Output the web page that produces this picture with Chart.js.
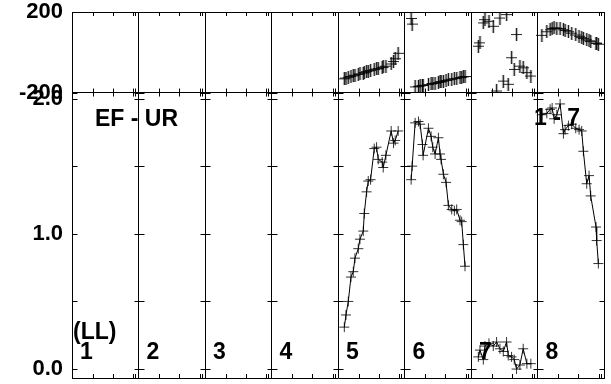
<!DOCTYPE html>
<html>
<head>
<meta charset="utf-8">
<script src="https://cdn.jsdelivr.net/npm/chart.js@4.4.1/dist/chart.umd.min.js"></script>
<style>
html, body { margin: 0; padding: 0; background: #fff; }
#wrap { width: 611px; height: 384px; }
</style>
</head>
<body>
<div id="wrap"><canvas id="vplot"></canvas></div>
<script>
// column (baseline) labels along the bottom
const columnLabels = ['1', '2', '3', '4', '5', '6', '7', '8'];
const ampTicks = [0, 1, 2];
const ampMinorTicks = [0, 0.5, 1, 1.5, 2];
const phaseTicks = [-200, 0, 200];
const timeTicks = [0.31, 0.61, 0.92, 0.95]; // time marks inside every column

// column 5
const col5Time = [0.095, 0.12, 0.155, 0.195, 0.23, 0.255, 0.305, 0.33, 0.38, 0.395, 0.43, 0.455, 0.49, 0.545, 0.58, 0.605, 0.665, 0.68, 0.72, 0.80, 0.835, 0.86, 0.905];
const col5Amp = [0.31, 0.40, 0.50, 0.68, 0.72, 0.82, 0.89, 0.96, 1.02, 1.15, 1.31, 1.39, 1.40, 1.63, 1.64, 1.55, 1.53, 1.49, 1.58, 1.76, 1.67, 1.69, 1.76];
const col5Phase = [-132, -128, -124, -120, -117, -114, -110, -107, -103, -101, -96, -93, -90, -86, -83, -80, -76, -73, -69, -58, -46, -32, -5];

// column 6
const col6Time = [0.10, 0.115, 0.16, 0.21, 0.235, 0.27, 0.28, 0.36, 0.40, 0.425, 0.46, 0.51, 0.535, 0.55, 0.585, 0.625, 0.66, 0.71, 0.75, 0.785, 0.835, 0.86, 0.885, 0.91];
const col6Amp = [1.40, 1.50, 1.82, 1.83, 1.81, 1.66, 1.58, 1.78, 1.72, 1.64, 1.59, 1.71, 1.59, 1.55, 1.44, 1.38, 1.21, 1.18, 1.17, 1.18, 1.10, 1.09, 0.92, 0.76];
const col6Phase = [168, 140, -172, -169, -167, -165, -164, -160, -157, -155, -153, -150, -147, -146, -143, -140, -137, -134, -131, -129, -126, -124, -122, -120];

// column 7
const col7Time = [0.11, 0.135, 0.185, 0.21, 0.27, 0.335, 0.385, 0.435, 0.485, 0.535, 0.56, 0.61, 0.65, 0.685, 0.735, 0.785, 0.84, 0.90];
const col7Amp = [0.09, 0.14, 0.07, 0.17, 0.19, 0.17, 0.20, 0.15, 0.13, 0.20, 0.10, 0.09, 0.07, 0.00, 0.03, 0.15, 0.04, 0.04];
const col7Phase = [30, 47, 146, 162, 154, 129, -192, 170, -143, 187, -159, -27, -85, 88, -69, -77, -101, -118];

// column 8
const col8Time = [0.065, 0.14, 0.19, 0.22, 0.25, 0.29, 0.34, 0.39, 0.415, 0.465, 0.515, 0.575, 0.625, 0.665, 0.69, 0.74, 0.775, 0.80, 0.88, 0.89, 0.915];
const col8Amp = [1.88, 1.89, 1.92, 1.93, 1.85, 1.88, 1.96, 1.74, 1.77, 1.80, 1.81, 1.78, 1.77, 1.76, 1.61, 1.37, 1.43, 1.28, 1.05, 0.95, 0.78];
const col8Phase = [84, 102, 112, 118, 121, 120, 118, 112, 108, 102, 95, 86, 79, 73, 69, 62, 57, 53, 46, 44, 40];

const columns = [
    { col: 5, time: col5Time, amp: col5Amp, phase: col5Phase },
    { col: 6, time: col6Time, amp: col6Amp, phase: col6Phase },
    { col: 7, time: col7Time, amp: col7Amp, phase: col7Phase },
    { col: 8, time: col8Time, amp: col8Amp, phase: col8Phase }
];

const FONT = "'Liberation Sans', Arial, Helvetica, sans-serif";
const crossColor = 'rgba(0,0,0,0.8)';

// phase marker: cross with a taller grey error bar
const phaseMark = document.createElement('canvas');
phaseMark.width = 11;
phaseMark.height = 13;
(function () {
    const g = phaseMark.getContext('2d');
    g.fillStyle = 'rgba(0,0,0,0.45)';
    g.fillRect(4.5, 0, 2, 13);
    g.fillStyle = 'rgba(0,0,0,0.85)';
    g.fillRect(5, 0, 1, 13);
    g.fillRect(0, 6, 11, 1);
})();

const datasets = [];
columns.forEach((c) => {
    const offset = c.col - 1;
    datasets.push({
        type: 'line',
        yAxisID: 'yAmp',
        data: c.time.map((t, i) => ({ x: offset + t, y: c.amp[i] })),
        borderColor: '#000',
        borderWidth: 1,
        tension: 0,
        pointStyle: 'cross',
        pointRadius: 5,
        pointBorderWidth: 1,
        pointBorderColor: crossColor
    });
    datasets.push({
        type: 'line',
        yAxisID: 'yPhase',
        showLine: false,
        data: c.time.map((t, i) => ({ x: offset + t, y: c.phase[i] })),
        pointStyle: phaseMark,
        pointRadius: 5
    });
});

function noPadding(scale) {
    scale.paddingTop = 0;
    scale.paddingBottom = 0;
    scale.paddingLeft = 0;
    scale.paddingRight = 0;
}

// small tick marks on the column boundaries and along the frame
const frameTicks = {
    id: 'frameTicks',
    afterDatasetsDraw(chart) {
        const ctx = chart.ctx;
        const x = chart.scales.x;
        const yA = chart.scales.yAmp;
        const yP = chart.scales.yPhase;
        const left = chart.chartArea.left;
        const right = chart.chartArea.right;
        ctx.save();
        ctx.strokeStyle = '#000';
        ctx.lineWidth = 1;
        ctx.beginPath();
        for (let i = 0; i <= columnLabels.length; i++) {
            const px = Math.round(x.getPixelForValue(i)) + 0.5;
            ampMinorTicks.forEach((v) => {
                const py = Math.round(yA.getPixelForValue(v)) + 0.5;
                ctx.moveTo(Math.max(px - 5, left), py);
                ctx.lineTo(Math.min(px + 5, right), py);
            });
            [-200, 200].forEach((v) => {
                const py = Math.round(yP.getPixelForValue(v)) + 0.5;
                ctx.moveTo(Math.max(px - 5, left), py);
                ctx.lineTo(Math.min(px + 5, right), py);
            });
        }
        for (let c = 0; c < columnLabels.length; c++) {
            timeTicks.forEach((f) => {
                const px = Math.round(x.getPixelForValue(c + f)) + 0.5;
                ctx.moveTo(px, yP.top); ctx.lineTo(px, yP.top + 4);
                ctx.moveTo(px, yP.bottom); ctx.lineTo(px, yP.bottom - 4);
                ctx.moveTo(px, yA.top); ctx.lineTo(px, yA.top + 4);
                ctx.moveTo(px, yA.bottom); ctx.lineTo(px, yA.bottom - 4);
            });
        }
        ctx.stroke();

        // panel texts
        ctx.fillStyle = '#000';
        ctx.font = 'bold 23px ' + FONT;
        ctx.textBaseline = 'alphabetic';
        ctx.textAlign = 'left';
        columnLabels.forEach((lab, i) => {
            ctx.fillText(lab, x.getPixelForValue(i) + 8, 359);
        });
        ctx.fillText('(LL)', left + 1, 339);
        ctx.fillText('EF - UR', 95, 126);
        ctx.fillText('1 - 7', 534, 125);
        ctx.restore();
    }
};

const tickFont = { family: FONT, size: 22, weight: 'bold', lineHeight: 1 };

const ctx = document.getElementById('vplot').getContext('2d');
const vplot = new Chart(ctx, {
    data: { datasets: datasets },
    options: {
        responsive: true,
        maintainAspectRatio: false,
        animation: false,
        layout: { padding: { left: 0, right: 7, top: 12, bottom: 4 } },
        plugins: {
            legend: { display: false },
            tooltip: { enabled: false }
        },
        scales: {
            x: {
                type: 'linear',
                position: 'bottom',
                min: 0,
                max: 8,
                ticks: { display: false, stepSize: 1 },
                grid: { color: '#000', lineWidth: 1, drawTicks: false },
                border: { display: true, color: '#000', width: 1 },
                afterFit: (s) => { s.height = 0; noPadding(s); }
            },
            yAmp: {
                type: 'linear',
                position: 'left',
                stack: 'panels',
                stackWeight: 287,
                weight: 1,
                min: -0.066,
                max: 2.044,
                afterBuildTicks: (s) => { s.ticks = ampTicks.map((v) => ({ value: v })); },
                ticks: {
                    color: '#000',
                    font: tickFont,
                    padding: 9,
                    callback: (v) => Number(v).toFixed(1)
                },
                grid: { display: false, drawTicks: false },
                border: { display: true, color: '#000', width: 1 },
                afterFit: (s) => { s.width = 72; noPadding(s); }
            },
            yPhase: {
                type: 'linear',
                position: 'left',
                stack: 'panels',
                stackWeight: 81,
                weight: 2,
                min: -200,
                max: 200,
                afterBuildTicks: (s) => { s.ticks = phaseTicks.map((v) => ({ value: v })); },
                ticks: {
                    color: '#000',
                    font: tickFont,
                    padding: 9,
                    callback: (v) => (v === 0 ? '' : String(v))
                },
                grid: { color: '#000', lineWidth: 1, drawTicks: false },
                border: { display: true, color: '#000', width: 1 },
                afterFit: (s) => { s.width = 72; noPadding(s); }
            }
        }
    },
    plugins: [frameTicks]
});
</script>
</body>
</html>
